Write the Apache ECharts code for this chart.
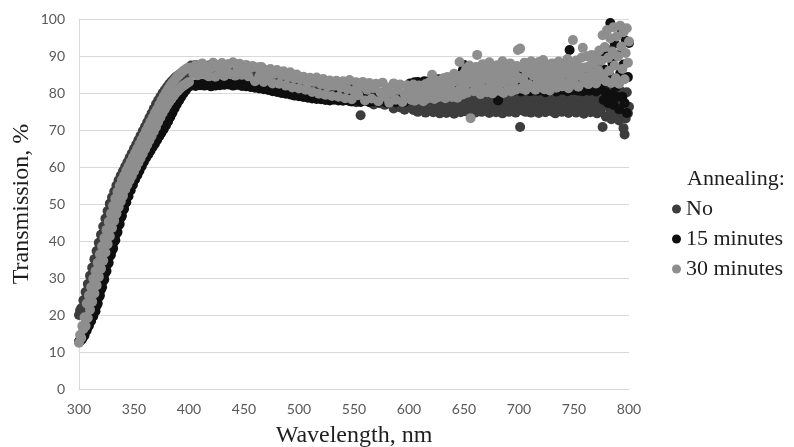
<!DOCTYPE html>
<html>
<head>
<meta charset="utf-8">
<script src="https://cdn.jsdelivr.net/npm/echarts@6/dist/echarts.min.js"></script>
<style>
html,body{margin:0;padding:0;background:#fff;overflow:hidden;}
#chart{width:794px;height:447px;}
</style>
</head>
<body>
<div id="chart"></div>
<script>
// Wavelength sampling (nm): 1 nm steps 300-400, 2 nm steps 402-598, 1 nm steps 600-800
const wavelength = [
300,301,302,303,304,305,306,307,308,309,
310,311,312,313,314,315,316,317,318,319,
320,321,322,323,324,325,326,327,328,329,
330,331,332,333,334,335,336,337,338,339,
340,341,342,343,344,345,346,347,348,349,
350,351,352,353,354,355,356,357,358,359,
360,361,362,363,364,365,366,367,368,369,
370,371,372,373,374,375,376,377,378,379,
380,381,382,383,384,385,386,387,388,389,
390,391,392,393,394,395,396,397,398,399,
400,
402,404,406,408,410,412,414,416,418,
420,422,424,426,428,430,432,434,436,438,
440,442,444,446,448,450,452,454,456,458,
460,462,464,466,468,470,472,474,476,478,
480,482,484,486,488,490,492,494,496,498,
500,502,504,506,508,510,512,514,516,518,
520,522,524,526,528,530,532,534,536,538,
540,542,544,546,548,550,552,554,556,558,
560,562,564,566,568,570,572,574,576,578,
580,582,584,586,588,590,592,594,596,598,
600,601,602,603,604,605,606,607,608,609,
610,611,612,613,614,615,616,617,618,619,
620,621,622,623,624,625,626,627,628,629,
630,631,632,633,634,635,636,637,638,639,
640,641,642,643,644,645,646,647,648,649,
650,651,652,653,654,655,656,657,658,659,
660,661,662,663,664,665,666,667,668,669,
670,671,672,673,674,675,676,677,678,679,
680,681,682,683,684,685,686,687,688,689,
690,691,692,693,694,695,696,697,698,699,
700,701,702,703,704,705,706,707,708,709,
710,711,712,713,714,715,716,717,718,719,
720,721,722,723,724,725,726,727,728,729,
730,731,732,733,734,735,736,737,738,739,
740,741,742,743,744,745,746,747,748,749,
750,751,752,753,754,755,756,757,758,759,
760,761,762,763,764,765,766,767,768,769,
770,771,772,773,774,775,776,777,778,779,
780,781,782,783,784,785,786,787,788,789,
790,791,792,793,794,795,796,797,798,799,
800
];

// Transmission (%) – no annealing
const transNo = [
20.0,21.2,21.8,21.7,24.0,23.9,26.2,26.1,28.4,28.3,
30.6,30.5,32.8,32.8,35.1,35.0,37.3,37.2,39.5,39.4,
41.7,41.6,43.9,43.8,46.1,45.9,48.1,47.9,50.1,49.8,
51.8,51.4,53.4,53.0,55.0,54.5,56.4,55.9,57.7,57.1,
58.9,58.3,60.1,59.5,61.3,60.7,62.5,61.9,63.7,63.1,
64.9,64.3,66.1,65.5,67.3,66.7,68.5,67.9,69.7,69.1,
70.9,70.3,72.1,71.5,73.3,72.7,74.5,73.9,75.7,75.1,
77.0,76.3,78.0,77.3,79.0,78.3,80.0,79.2,80.8,80.0,
81.6,80.8,82.4,81.6,83.1,82.2,83.7,82.8,84.3,83.3,
84.7,83.7,85.1,84.1,85.5,84.5,85.9,84.9,86.3,85.3,
86.7,
87.4,86.3,87.6,86.6,85.6,87.7,86.4,85.3,87.4,
86.1,87.9,86.7,85.2,87.5,86.0,87.3,85.1,87.7,86.3,
87.0,85.0,87.6,85.7,86.9,84.9,87.1,85.4,84.3,86.5,
85.8,84.6,86.9,85.2,83.9,86.1,84.7,83.5,85.6,84.0,
82.8,85.0,83.6,82.3,84.4,83.1,81.9,84.0,82.6,81.5,
82.9,80.4,83.5,81.2,79.6,82.7,80.8,79.3,82.1,80.5,
78.8,81.6,79.9,82.4,78.6,80.9,79.2,81.8,78.4,80.6,
82.0,78.9,80.3,77.8,81.5,79.1,77.5,80.7,74.0,79.4,
81.2,77.9,80.0,78.3,76.9,80.4,78.7,77.2,79.8,76.8,
78.5,80.1,77.0,75.8,79.0,77.6,76.1,78.4,75.5,77.8,
78.6,76.1,79.3,77.0,75.4,78.2,80.1,76.5,74.9,77.8,
79.0,75.6,77.3,80.4,76.0,74.7,78.5,76.8,79.6,75.2,
77.5,80.0,74.8,76.6,78.9,75.8,77.2,79.7,74.5,76.9,
78.3,75.3,80.2,77.0,74.6,78.7,76.2,79.4,75.0,77.6,
79.1,74.4,76.7,78.0,75.5,80.3,77.1,74.8,78.6,76.3,
79.3,75.1,77.4,80.0,74.9,76.5,78.8,75.7,77.9,79.5,
74.7,76.9,78.4,75.4,80.1,77.0,74.9,78.2,76.0,79.2,
75.3,77.7,80.4,74.6,76.8,78.9,75.6,77.3,79.8,74.8,
76.4,78.1,75.0,80.2,77.5,74.5,76.7,79.0,75.8,77.9,
80.0,74.9,76.3,78.6,75.2,77.4,79.6,74.7,76.9,78.3,
76.4,70.8,78.6,75.3,77.7,79.2,74.9,76.8,78.3,75.6,
77.9,74.7,79.0,76.2,77.4,75.1,78.8,76.5,74.6,77.8,
79.3,75.8,76.9,78.1,74.8,77.2,79.5,75.4,76.6,78.4,
75.0,77.6,79.1,74.5,76.3,78.0,75.7,77.1,79.4,74.9,
76.7,78.6,75.2,77.5,79.0,74.6,76.0,78.2,75.5,77.3,
79.6,75.9,74.7,77.8,76.4,78.9,75.1,77.0,79.3,74.4,
76.6,78.5,75.3,77.2,79.0,74.8,76.9,78.1,75.6,77.7,
79.4,74.5,76.2,78.7,75.4,80.3,70.8,77.5,79.8,73.6,
76.4,80.6,74.1,78.2,72.9,79.5,75.7,80.8,73.4,77.6,
79.9,72.6,76.8,80.4,74.5,70.5,68.8,73.1,80.2,74.5,
76.3
];

// Transmission (%) – 15 minutes annealing
const trans15 = [
12.8,13.0,13.3,13.6,14.2,14.5,15.6,15.8,16.9,17.1,
18.3,18.4,19.6,19.7,20.9,21.0,22.5,23.1,24.8,25.3,
26.9,27.5,29.2,29.6,31.4,31.9,33.7,34.1,35.9,36.3,
37.5,38.0,39.8,40.2,42.0,42.4,44.2,44.6,46.3,46.8,
48.3,48.7,50.2,50.5,51.9,52.1,53.5,53.7,55.0,55.2,
56.4,56.6,57.7,57.8,58.9,59.0,60.1,60.2,61.3,61.4,
62.5,62.5,63.5,63.4,64.4,64.4,65.4,65.4,66.3,66.3,
67.3,67.3,68.3,68.3,69.3,69.3,70.2,70.2,71.2,71.2,
72.2,72.3,73.3,73.5,74.5,74.7,75.7,75.9,76.9,77.0,
77.9,78.0,78.8,79.0,79.8,79.9,80.6,80.7,81.4,81.5,
82.1,
82.0,82.3,81.9,82.4,82.1,82.5,82.0,82.6,82.2,
81.8,82.5,82.0,82.7,82.1,82.6,82.2,82.8,82.3,82.6,
82.0,82.7,82.2,82.5,81.9,82.4,81.8,82.2,81.6,82.0,
81.4,81.9,81.2,81.7,81.0,81.5,80.8,81.2,80.5,81.0,
80.3,80.8,80.0,80.6,79.8,80.4,79.6,80.1,79.3,79.9,
79.1,79.8,78.9,79.6,78.7,79.5,78.5,79.3,78.4,79.4,
78.3,79.2,78.1,79.0,78.0,79.1,78.2,79.3,78.0,78.9,
77.9,79.0,78.1,79.2,77.7,78.8,78.0,79.1,77.6,78.6,
77.9,79.0,77.5,78.7,77.8,79.2,77.6,78.5,77.9,79.0,
77.4,78.8,77.7,79.3,77.5,78.9,77.8,79.4,77.6,78.7,
80.4,82.6,79.8,81.7,80.2,82.9,79.5,81.1,83.0,80.0,
81.8,79.7,82.4,80.6,83.2,79.9,81.4,82.7,80.3,81.9,
83.5,80.1,82.2,81.0,79.6,82.8,80.7,83.7,81.5,80.0,
82.3,81.2,83.9,80.5,82.0,79.8,83.1,81.6,80.2,82.6,
84.0,80.8,82.9,81.3,83.6,80.4,82.1,84.3,81.0,86.2,
87.6,82.5,80.9,84.6,81.7,83.3,80.6,84.9,82.0,81.3,
83.8,80.7,85.1,82.3,81.0,84.4,80.5,83.0,85.6,81.8,
82.6,84.8,80.9,83.5,81.4,85.3,82.1,80.6,84.1,82.8,
81.5,78.0,84.5,82.2,80.8,85.0,83.2,81.1,84.7,82.4,
80.9,85.4,83.0,81.6,84.2,82.5,80.7,85.8,83.3,81.9,
82.2,84.6,80.4,85.9,82.1,80.8,84.4,81.3,83.6,86.2,
80.5,82.9,84.8,81.1,80.7,85.3,82.9,80.6,83.0,81.4,
84.7,86.5,81.3,82.8,80.2,84.1,82.4,81.6,85.7,80.8,
83.3,81.0,84.9,82.6,80.4,83.5,81.9,86.8,82.1,80.9,
83.6,84.3,81.0,83.0,80.5,85.5,91.6,82.4,82.9,80.8,
84.7,81.2,83.3,86.1,80.6,83.4,81.9,85.0,80.5,82.7,
83.8,86.4,81.1,84.2,80.6,82.0,85.8,81.3,83.6,81.1,
80.4,87.0,82.9,84.5,81.0,89.5,82.4,78.1,86.3,80.2,
91.7,77.3,84.8,98.9,79.5,88.0,76.8,93.4,81.6,78.9,
90.2,75.6,85.3,96.0,79.0,87.7,77.3,94.1,74.6,84.3,
93.5
];

// Transmission (%) – 30 minutes annealing
const trans30 = [
12.5,14.6,13.8,17.0,16.2,19.4,17.0,23.1,19.2,25.3,
21.4,27.5,23.6,29.8,25.8,31.9,28.0,34.1,30.3,36.4,
32.5,38.6,34.7,40.8,36.9,43.0,39.1,45.2,41.3,47.4,
43.5,49.5,45.5,51.5,47.4,53.3,49.1,54.9,50.7,56.5,
52.2,57.6,53.9,59.0,55.2,60.2,56.4,61.4,57.6,62.6,
58.8,63.8,60.0,65.0,61.2,66.2,62.4,67.4,63.6,68.6,
64.8,69.8,66.0,71.0,67.2,72.2,68.4,73.4,69.6,74.6,
70.8,75.6,72.2,76.8,73.4,78.0,74.6,79.1,75.6,80.1,
76.6,81.1,77.6,82.0,78.4,82.8,79.2,83.6,80.0,84.3,
80.6,84.9,81.2,85.5,81.8,86.0,82.2,86.4,82.6,86.8,
83.0,
86.9,85.2,87.5,84.8,86.3,88.0,85.0,87.2,84.5,
86.8,88.2,84.4,87.0,85.6,88.1,84.6,86.4,87.8,85.1,
88.3,84.7,86.9,87.9,84.9,86.2,87.6,84.5,86.8,87.3,
83.2,86.9,84.6,87.0,83.0,85.8,84.0,86.5,82.6,85.2,
86.2,82.5,84.8,85.9,82.0,84.3,85.6,81.5,83.9,85.0,
81.2,83.6,84.4,80.9,82.7,84.1,80.3,83.0,84.2,79.8,
82.4,83.8,79.5,81.8,83.4,79.2,82.0,83.3,79.0,81.4,
83.2,78.6,81.0,83.5,78.3,80.6,82.9,79.4,81.7,83.0,
78.0,80.9,82.7,78.5,81.3,82.5,77.8,80.2,82.8,79.0,
81.5,77.4,80.0,82.6,78.2,80.8,82.3,77.6,79.7,82.1,
79.8,81.6,78.2,80.9,82.3,77.9,80.4,81.8,79.0,82.0,
78.3,80.7,81.9,77.8,79.6,82.4,80.1,78.5,81.5,83.0,
79.2,84.9,80.6,78.4,82.2,80.0,83.4,78.9,81.3,82.8,
79.5,83.9,80.8,78.6,82.5,84.3,79.8,81.7,83.6,78.9,
82.9,85.2,80.3,83.8,78.7,84.6,88.4,81.4,83.1,79.6,
85.3,82.0,86.6,80.1,84.2,87.4,73.2,82.8,85.8,80.5,
84.0,87.0,90.3,81.6,85.5,79.7,83.3,87.8,81.0,84.9,
86.4,80.2,83.7,88.3,82.4,85.0,79.9,86.9,83.0,81.2,
87.5,84.4,80.6,86.1,82.7,88.6,80.0,85.2,83.5,87.2,
81.1,84.6,88.0,80.4,86.3,82.9,85.7,80.9,87.3,91.6,
84.1,92.0,81.2,86.9,83.5,88.2,80.8,85.4,87.7,82.3,
86.1,88.6,81.5,84.7,87.3,80.9,85.9,83.0,88.4,82.1,
86.6,84.2,88.9,81.0,85.2,87.4,82.8,86.3,80.7,84.5,
88.0,82.5,85.8,87.1,81.4,84.0,88.5,83.3,86.7,81.8,
85.0,87.9,82.6,86.0,89.2,81.3,84.8,87.6,83.1,94.3,
86.4,82.2,88.8,84.6,81.7,87.0,85.3,89.6,92.2,82.9,
86.9,84.1,89.9,82.4,87.3,85.5,90.3,83.0,88.1,84.9,
82.6,89.4,86.2,91.5,83.8,88.7,95.6,85.1,92.4,83.2,
97.0,89.5,86.0,94.8,82.7,91.2,97.8,87.4,84.0,95.3,
89.9,82.5,98.2,92.6,86.5,96.4,83.7,90.8,97.5,88.2,
93.9
];

const xTicks = {min: 300, max: 800, step: 50};
const yTicks = {min: 0, max: 100, step: 10};
const seriesNames = ['No', '15 minutes', '30 minutes'];
const seriesColors = ['#3d3d3d', '#0f0f0f', '#8e8e8e'];
const seriesValues = [transNo, trans15, trans30];

const serif = '"Liberation Serif", "Times New Roman", serif';
const sans = 'Lato, "Open Sans", sans-serif';
const chart = echarts.init(document.getElementById('chart'), null, {renderer: 'canvas'});

chart.setOption({
  animation: false,
  backgroundColor: '#ffffff',
  title: {
    text: 'Annealing:',
    left: 682, top: 163,
    textStyle: {fontFamily: serif, fontSize: 22, fontWeight: 'normal', color: '#1e1e1e'}
  },
  legend: {
    data: seriesNames,
    orient: 'vertical',
    left: 667, top: 193,
    icon: 'circle',
    itemWidth: 9, itemHeight: 9, itemGap: 8,
    textStyle: {fontFamily: serif, fontSize: 22, color: '#1e1e1e'}
  },
  grid: {left: 79, right: 165, top: 19, bottom: 58, outerBoundsMode: 'none', containLabel: false},
  xAxis: {
    type: 'value', min: xTicks.min, max: xTicks.max, interval: xTicks.step,
    name: 'Wavelength, nm', nameLocation: 'middle', nameGap: 35, nameMoveOverlap: false,
    nameTextStyle: {fontFamily: serif, fontSize: 24, color: '#1e1e1e'},
    axisLine: {show: true, lineStyle: {color: '#d9d9d9', width: 1}},
    axisTick: {show: false},
    splitLine: {show: false},
    axisLabel: {fontFamily: sans, fontSize: 14, color: '#595959', margin: 13}
  },
  yAxis: {
    type: 'value', min: yTicks.min, max: yTicks.max, interval: yTicks.step,
    name: 'Transmission, %', nameLocation: 'middle', nameGap: 45, nameMoveOverlap: false,
    nameTextStyle: {fontFamily: serif, fontSize: 24, color: '#1e1e1e'},
    axisLine: {show: true, lineStyle: {color: '#d9d9d9', width: 1}},
    axisTick: {show: false},
    splitLine: {show: true, lineStyle: {color: '#d9d9d9', width: 1}},
    axisLabel: {fontFamily: sans, fontSize: 14, color: '#595959', margin: 14}
  },
  series: seriesNames.map((name, i) => ({
    name: name,
    type: 'scatter',
    symbol: 'circle',
    symbolSize: 10,
    itemStyle: {color: seriesColors[i], opacity: 1},
    emphasis: {disabled: true},
    data: wavelength.map((w, k) => [w, seriesValues[i][k]])
  }))
});
</script>
</body>
</html>
